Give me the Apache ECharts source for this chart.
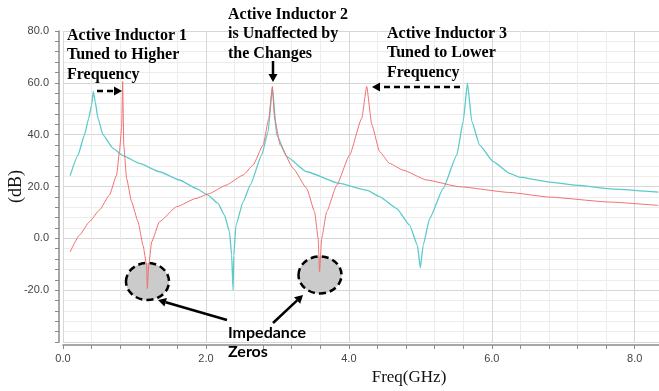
<!DOCTYPE html>
<html lang="en">
<head>
    <meta charset="UTF-8">
    <title>Active inductor tuning</title>
    <script src="https://cdn.jsdelivr.net/npm/echarts@6/dist/echarts.min.js"></script>
    <style>
        html, body { margin: 0; padding: 0; background: #fff; }
    </style>
</head>
<body>
    <div id="main" style="width: 659px; height: 391px;"></div>

    <script type="text/javascript">
        // values (GHz, dB)
        var cyanFreq = [0.10, 0.21, 0.30, 0.36, 0.40, 0.424, 0.45, 0.49, 0.56, 0.70, 0.84, 1.07, 1.35, 1.63, 1.86, 2.03, 2.17, 2.26, 2.33, 2.36, 2.38, 2.39, 2.42, 2.52, 2.62, 2.78, 2.87, 2.93, 2.99, 3.13, 3.41, 3.87, 4.25, 4.43, 4.67, 4.85, 4.96, 5.00, 5.04, 5.13, 5.32, 5.51, 5.60, 5.66, 5.72, 5.83, 6.02, 6.25, 6.39, 6.81, 7.23, 7.65, 8.33];
        var cyanDb = [24.2, 32.1, 39.9, 46.3, 51.5, 56.7, 52.8, 46.3, 39.9, 34.7, 31.9, 28.9, 25.7, 22.5, 19.3, 16.7, 13.5, 8.9, 2.5, -6.5, -20.1, -6.5, 5.1, 14.1, 20.5, 32.1, 41.2, 58.0, 39.9, 31.5, 25.7, 21.2, 18.6, 16.1, 11.5, 5.1, -2.7, -11.4, -2.7, 7.6, 19.3, 32.1, 45.1, 59.9, 45.1, 36.0, 29.6, 25.1, 23.6, 21.7, 20.4, 19.1, 17.8];

        var redFreq = [0.10, 0.23, 0.37, 0.51, 0.65, 0.75, 0.79, 0.82, 0.835, 0.85, 0.89, 0.96, 1.05, 1.12, 1.17, 1.18, 1.20, 1.24, 1.35, 1.59, 1.86, 2.05, 2.28, 2.52, 2.66, 2.80, 2.88, 2.93, 2.96, 3.04, 3.22, 3.41, 3.52, 3.57, 3.59, 3.62, 3.69, 3.83, 4.01, 4.18, 4.25, 4.32, 4.43, 4.57, 4.76, 5.09, 5.55, 6.25, 6.81, 7.65, 8.33];
        var redDb = [-5.2, 1.2, 6.4, 10.9, 16.7, 24.4, 33.5, 42.5, 60.5, 36.0, 23.1, 14.1, 6.4, -2.7, -10.4, -19.4, -10.4, -1.4, 6.4, 12.2, 15.4, 17.3, 20.5, 24.4, 28.3, 36.0, 46.3, 58.6, 46.3, 36.0, 27.0, 19.3, 10.3, 0.1, -12.8, 0.1, 10.3, 20.5, 32.1, 46.3, 58.6, 44.0, 33.5, 28.9, 26.3, 22.5, 19.9, 17.7, 15.9, 14.0, 12.7];

        var xTicks = [0, 2, 4, 6, 8];
        var yTicks = [-20, 0, 20, 40, 60, 80];

        function pairs(xs, ys) {
            return xs.map(function (x, i) { return [x, ys[i]]; });
        }

        // annotation arrow: a line plus a small triangle head at (x2, y2)
        function arrow(x1, y1, x2, y2, dashed) {
            var a = Math.atan2(y2 - y1, x2 - x1);
            var len = 8, w = 4.5;
            var bx = x2 - len * Math.cos(a), by = y2 - len * Math.sin(a);
            var px = -Math.sin(a) * w, py = Math.cos(a) * w;
            return [{
                type: 'line', z: 20,
                shape: { x1: x1, y1: y1, x2: bx, y2: by },
                style: { stroke: '#000', lineWidth: 2.5, lineDash: dashed ? [6, 4] : null }
            }, {
                type: 'polygon', z: 20,
                shape: { points: [[x2, y2], [bx + px, by + py], [bx - px, by - py]] },
                style: { fill: '#000' }
            }];
        }

        function note(text, x, y, font) {
            return {
                type: 'text', z: 20,
                style: {
                    text: text, x: x, y: y, fill: '#000',
                    font: font || 'bold 16px "Liberation Serif"',
                    lineHeight: 19.5, textAlign: 'left', verticalAlign: 'top'
                }
            };
        }

        function zeroMark(cx, cy) {
            return {
                type: 'ellipse', z: 1,
                shape: { cx: cx, cy: cy, rx: 21.5, ry: 18.5 },
                style: { fill: '#cbcbcb', stroke: '#000', lineWidth: 2.5, lineDash: [7, 4] }
            };
        }

        var graphics = [
            zeroMark(147.5, 281.5),
            zeroMark(320, 275),
            note('Active Inductor 1\nTuned to Higher\nFrequency', 67, 26),
            note('Active Inductor 2\nis Unaffected by\nthe Changes', 228, 5),
            note('Active Inductor 3\nTuned to Lower\nFrequency', 387, 24),
            note('Impedance\nZeros', 228, 323, 'bold 16px Lato')
        ]
            .concat(arrow(97, 91, 122, 91, true))
            .concat(arrow(273, 61, 273, 82, false))
            .concat(arrow(460, 87, 372, 87, true))
            .concat(arrow(227, 320, 158, 300, false))
            .concat(arrow(273, 323, 303, 295, false));

        var myChart = echarts.init(document.getElementById('main'));

        var option = {
            animation: false,
            backgroundColor: '#fff',
            grid: { left: 63, right: 0, top: 31, bottom: 49, outerBoundsMode: 'none', containLabel: false },
            xAxis: {
                type: 'value',
                min: 0, max: 8.34, interval: 2,
                offset: 3,
                name: 'Freq(GHz)',
                nameLocation: 'middle',
                nameGap: 24,
                nameMoveOverlap: false,
                nameTextStyle: { fontFamily: 'Liberation Serif', fontSize: 17, color: '#111', padding: [0, 0, 0, 96] },
                axisLine: { onZero: false, lineStyle: { color: '#8a8a8a', width: 1.5 } },
                axisTick: { length: 4, lineStyle: { color: '#8a8a8a' } },
                minorTick: { show: true, splitNumber: 5, length: 4, lineStyle: { color: '#8a8a8a' } },
                axisLabel: {
                    margin: 8, color: '#444', fontSize: 11, fontFamily: 'Liberation Sans',
                    showMaxLabel: false,
                    formatter: function (v) { return xTicks.indexOf(v) >= 0 ? v.toFixed(1) : ''; }
                },
                splitLine: { lineStyle: { color: '#d6d6d6' } },
                minorSplitLine: { show: true, lineStyle: { color: '#ececec' } }
            },
            yAxis: {
                type: 'value',
                min: -40, max: 80, interval: 20,
                offset: 4,
                name: '(dB)',
                nameLocation: 'middle',
                nameRotate: 90,
                nameGap: 34,
                nameMoveOverlap: false,
                nameTextStyle: { fontFamily: 'Liberation Serif', fontSize: 18, color: '#111' },
                axisLine: { show: true, onZero: false, lineStyle: { color: '#8a8a8a', width: 1.5 } },
                axisTick: { show: true, length: 4, lineStyle: { color: '#8a8a8a' } },
                minorTick: { show: true, splitNumber: 5, length: 4, lineStyle: { color: '#8a8a8a' } },
                axisLabel: {
                    margin: 10, color: '#444', fontSize: 11, fontFamily: 'Liberation Sans',
                    formatter: function (v) { return yTicks.indexOf(v) >= 0 ? v.toFixed(1) : ''; }
                },
                splitLine: { lineStyle: { color: '#d6d6d6' } },
                minorSplitLine: { show: true, lineStyle: { color: '#ececec' } }
            },
            series: [{
                name: 'Original',
                type: 'line',
                z: 5,
                showSymbol: false,
                smooth: 0.15,
                smoothMonotone: 'x',
                lineStyle: { color: '#5ccaca', width: 1.3 },
                data: pairs(cyanFreq, cyanDb)
            }, {
                name: 'Tuned',
                type: 'line',
                z: 6,
                showSymbol: false,
                smooth: 0.15,
                smoothMonotone: 'x',
                lineStyle: { color: '#f07070', width: 1 },
                data: pairs(redFreq, redDb)
            }],
            graphic: graphics
        };

        myChart.setOption(option);
    </script>
</body>
</html>
